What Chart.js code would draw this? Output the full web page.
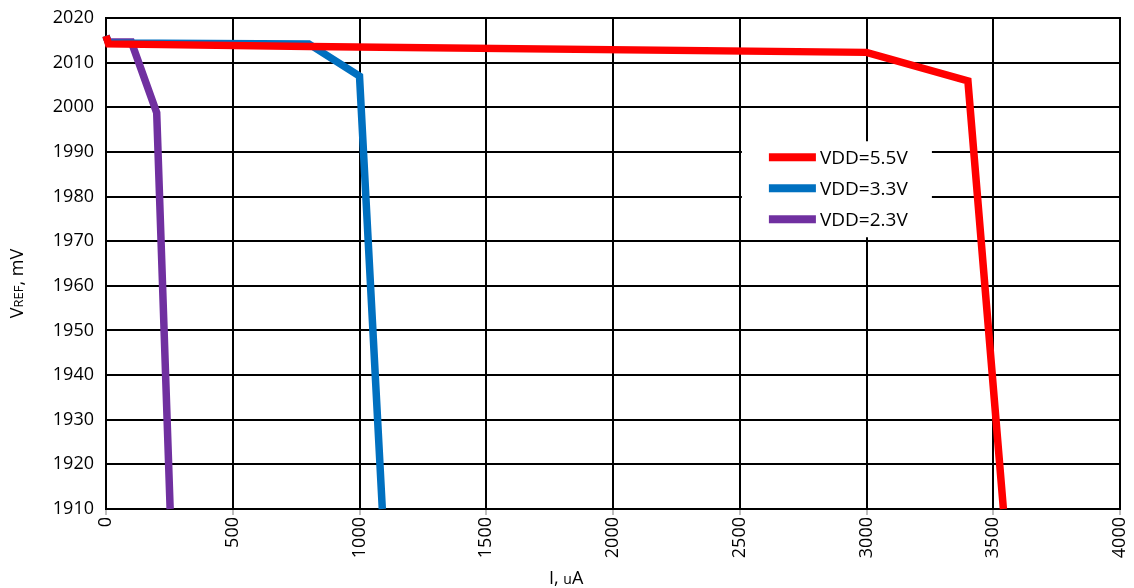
<!DOCTYPE html>
<html lang="en">
<head>
    <meta charset="UTF-8">
    <title>VREF vs load current</title>
    <script src="https://cdn.jsdelivr.net/npm/chart.js"></script>
    <style>
        body {
            margin: 0;
            padding: 0;
            background: #fff;
        }

        .chart-box {
            width: 1134px;
            height: 588px;
        }
    </style>
</head>
<body>
    <div class="chart-box">
        <canvas id="chart" width="1134" height="588"></canvas>
    </div>

    <script>
        // data (I in uA, VREF in mV)
        const seriesLabels = ['VDD=5.5V', 'VDD=3.3V', 'VDD=2.3V'];
        const seriesColors = ['#FF0000', '#0070C0', '#7030A0'];

        const i55 = [0, 10, 800, 3000, 3400, 3540];
        const v55 = [2016, 2014.2, 2013.6, 2012.3, 2005.9, 1910];

        const i33 = [0, 10, 800, 1000, 1090];
        const v33 = [2016, 2014.4, 2014.2, 2007.0, 1910];

        const i23 = [0, 10, 100, 200, 253];
        const v23 = [2015.8, 2014.6, 2014.6, 1998.8, 1910];

        const xTicks = [0, 500, 1000, 1500, 2000, 2500, 3000, 3500, 4000];
        const yTicks = [1910, 1920, 1930, 1940, 1950, 1960, 1970, 1980, 1990, 2000, 2010, 2020];

        const FONT = "'Open Sans', sans-serif";

        function toPoints(xs, ys) {
            return xs.map((x, i) => ({ x: x, y: ys[i] }));
        }

        // legend drawn inside the plot on a white box, like the original
        const innerLegend = {
            id: 'innerLegend',
            afterDatasetsDraw(chart) {
                const ctx = chart.ctx;
                const x0 = chart.scales.x.getPixelForValue(2615);
                const y0 = chart.scales.y.getPixelForValue(1988.8);
                ctx.save();
                ctx.fillStyle = '#fff';
                ctx.fillRect(x0 - 27, y0 - 16, 190, 96);
                ctx.font = '19px ' + FONT;
                ctx.textBaseline = 'middle';
                chart.data.datasets.forEach((ds, i) => {
                    const y = y0 + i * 31;
                    ctx.fillStyle = ds.borderColor;
                    ctx.fillRect(x0, y - 4, 47, 8);
                    ctx.fillStyle = '#000';
                    ctx.fillText(ds.label, x0 + 51, y + 1);
                });
                ctx.restore();
            }
        };

        // axis titles (VREF with smaller REF)
        const axisTitles = {
            id: 'axisTitles',
            afterDraw(chart) {
                const ctx = chart.ctx;
                const area = chart.chartArea;
                ctx.save();
                ctx.fillStyle = '#000';
                ctx.textBaseline = 'alphabetic';

                // x title
                ctx.font = '18px ' + FONT;
                ctx.textAlign = 'left';
                ctx.fillText('I, ', 549, 584);
                let w = ctx.measureText('I, ').width;
                ctx.font = '14px ' + FONT;
                ctx.fillText('u', 549 + w, 584);
                w += ctx.measureText('u').width;
                ctx.font = '18px ' + FONT;
                ctx.fillText('A', 549 + w, 584);

                // y title, rotated
                const parts = [['V', 18], ['REF', 13], [', mV', 18]];
                let total = 0;
                parts.forEach(p => {
                    ctx.font = p[1] + 'px ' + FONT;
                    total += ctx.measureText(p[0]).width;
                });
                ctx.translate(23, (area.top + area.bottom) / 2 + 20);
                ctx.rotate(-Math.PI / 2);
                let x = -total / 2;
                parts.forEach(p => {
                    ctx.font = p[1] + 'px ' + FONT;
                    ctx.fillText(p[0], x, 0);
                    x += ctx.measureText(p[0]).width;
                });
                ctx.restore();
            }
        };

        // black frame round the plot
        const plotFrame = {
            id: 'plotFrame',
            beforeDatasetsDraw(chart) {
                const a = chart.chartArea;
                const ctx = chart.ctx;
                ctx.save();
                ctx.strokeStyle = '#000';
                ctx.lineWidth = 2;
                ctx.strokeRect(a.left, a.top, a.right - a.left, a.bottom - a.top);
                ctx.restore();
            }
        };

        const lists = [[i55, v55], [i33, v33], [i23, v23]];

        new Chart(document.getElementById('chart'), {
            type: 'scatter',
            data: {
                datasets: lists.map((s, i) => ({
                    label: seriesLabels[i],
                    data: toPoints(s[0], s[1]),
                    showLine: true,
                    borderColor: seriesColors[i],
                    backgroundColor: seriesColors[i],
                    borderWidth: 7.5,
                    pointRadius: 0,
                    tension: 0,
                    borderJoinStyle: 'miter',
                    clip: false
                }))
            },
            options: {
                responsive: false,
                animation: false,
                layout: { padding: { left: 0, right: 14, top: 18, bottom: 0 } },
                plugins: {
                    legend: { display: false },
                    tooltip: { enabled: false }
                },
                scales: {
                    x: {
                        type: 'linear',
                        min: 0,
                        max: 4000,
                        afterBuildTicks: scale => { scale.ticks = xTicks.map(v => ({ value: v })); },
                        afterFit: scale => {
                            scale.height = 79;
                            scale.paddingRight = 0;
                            scale.paddingLeft = 0;
                        },
                        ticks: {
                            font: { family: FONT, size: 18 },
                            color: '#000',
                            minRotation: 90,
                            maxRotation: 90,
                            padding: 2,
                            callback: v => String(v)
                        },
                        grid: {
                            color: '#000',
                            lineWidth: 2,
                            tickLength: 6,
                            tickColor: '#BFBFBF'
                        },
                        border: { display: false }
                    },
                    y: {
                        type: 'linear',
                        min: 1910,
                        max: 2020,
                        afterBuildTicks: scale => { scale.ticks = yTicks.map(v => ({ value: v })); },
                        afterFit: scale => {
                            scale.width = 106;
                            scale.paddingTop = 0;
                            scale.paddingBottom = 0;
                        },
                        ticks: {
                            font: { family: FONT, size: 18 },
                            color: '#000',
                            padding: 12,
                            callback: v => String(v)
                        },
                        grid: {
                            color: '#000',
                            lineWidth: 2,
                            tickLength: 0
                        },
                        border: { display: false }
                    }
                }
            },
            plugins: [plotFrame, innerLegend, axisTitles]
        });
    </script>
</body>
</html>
